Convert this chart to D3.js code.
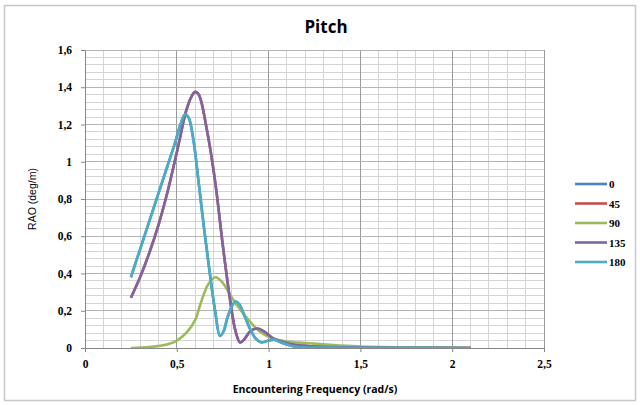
<!DOCTYPE html>
<html>
<head>
<meta charset="utf-8">
<script src="https://cdn.jsdelivr.net/npm/d3@7"></script>
<style>
  body { margin: 0; background: #fff; }
  svg text { fill: #000; }
</style>
</head>
<body>
<div id="chart"></div>
<script>
// ---------------- data ----------------
var seriesNames = ["0", "45", "90", "135", "180"];
var seriesColors = ["#4f81bd", "#c0504d", "#9bbb59", "#8064a2", "#4bacc6"];

// 0 deg (hidden beneath 180 in the picture)
var freq0 = [0.25, 0.3, 0.35, 0.4, 0.45, 0.49, 0.52, 0.545, 0.565, 0.59, 0.62, 0.65, 0.68, 0.71, 0.735, 0.755, 0.775, 0.8, 0.82, 0.84, 0.87, 0.9, 0.93, 0.96, 1.0, 1.03, 1.08, 1.15, 1.3, 1.6, 2.1];
var rao0  = [0.38, 0.53, 0.68, 0.83, 0.98, 1.1, 1.2, 1.255, 1.235, 1.12, 0.88, 0.63, 0.4, 0.19, 0.065, 0.09, 0.16, 0.225, 0.25, 0.235, 0.17, 0.1, 0.05, 0.03, 0.04, 0.045, 0.025, 0.006, 0.002, 0.001, 0];
// 45 deg (hidden beneath 135)
var freq45 = [0.25, 0.3, 0.35, 0.4, 0.45, 0.5, 0.52, 0.55, 0.58, 0.6, 0.62, 0.664, 0.708, 0.752, 0.79, 0.82, 0.845, 0.87, 0.9, 0.94, 0.98, 1.02, 1.07, 1.12, 1.2, 1.3, 1.5, 2.1];
var rao45  = [0.27, 0.38, 0.51, 0.66, 0.84, 1.05, 1.14, 1.27, 1.35, 1.375, 1.36, 1.17, 0.9, 0.54, 0.26, 0.09, 0.03, 0.05, 0.09, 0.105, 0.085, 0.055, 0.035, 0.022, 0.012, 0.006, 0.003, 0];
// 90 deg
var freq90 = [0.25, 0.35, 0.45, 0.5, 0.55, 0.6, 0.63, 0.67, 0.71, 0.75, 0.8, 0.85, 0.9, 0.95, 1.0, 1.1, 1.2, 1.3, 1.4, 1.5, 1.7, 2.0, 2.1];
var rao90  = [0, 0.005, 0.02, 0.04, 0.08, 0.15, 0.24, 0.34, 0.38, 0.35, 0.27, 0.2, 0.14, 0.09, 0.06, 0.035, 0.027, 0.02, 0.013, 0.008, 0.004, 0.001, 0];
// 135 deg
var freq135 = [0.25, 0.3, 0.35, 0.4, 0.45, 0.5, 0.52, 0.55, 0.58, 0.6, 0.62, 0.664, 0.708, 0.752, 0.79, 0.82, 0.845, 0.87, 0.9, 0.94, 0.98, 1.02, 1.07, 1.12, 1.2, 1.3, 1.5, 2.1];
var rao135  = [0.27, 0.38, 0.51, 0.66, 0.84, 1.05, 1.14, 1.27, 1.35, 1.375, 1.36, 1.17, 0.9, 0.54, 0.26, 0.09, 0.03, 0.05, 0.09, 0.105, 0.085, 0.055, 0.035, 0.022, 0.012, 0.006, 0.003, 0];
// 180 deg
var freq180 = [0.25, 0.3, 0.35, 0.4, 0.45, 0.49, 0.52, 0.545, 0.565, 0.59, 0.62, 0.65, 0.68, 0.71, 0.735, 0.755, 0.775, 0.8, 0.82, 0.84, 0.87, 0.9, 0.93, 0.96, 1.0, 1.03, 1.08, 1.15, 1.3, 1.6, 2.1];
var rao180  = [0.38, 0.53, 0.68, 0.83, 0.98, 1.1, 1.2, 1.255, 1.235, 1.12, 0.88, 0.63, 0.4, 0.19, 0.065, 0.09, 0.16, 0.225, 0.25, 0.235, 0.17, 0.1, 0.05, 0.03, 0.04, 0.045, 0.025, 0.006, 0.002, 0.001, 0];

var xTicks = [0, 0.5, 1, 1.5, 2, 2.5];
var yTicks = [0, 0.2, 0.4, 0.6, 0.8, 1, 1.2, 1.4, 1.6];

// ---------------- layout ----------------
var W = 640, H = 405;
var margins = { left: 85, right: 96, top: 50, bottom: 57 };
var width = W - margins.left - margins.right;
var height = H - margins.top - margins.bottom;

var svg = d3.select("#chart").append("svg")
    .attr("width", W).attr("height", H);

// chart area border
svg.append("rect")
    .attr("x", 4.5).attr("y", 5.5)
    .attr("width", 631).attr("height", 395)
    .attr("fill", "#fff").attr("stroke", "#c8c8c8").attr("stroke-width", 1.5);

var g = svg.append("g")
    .attr("transform", "translate(" + margins.left + "," + margins.top + ")");

var x = d3.scaleLinear().domain([0, 2.5]).range([0, width]);
var y = d3.scaleLinear().domain([0, 1.6]).range([height, 0]);

var loc = d3.formatLocale({ decimal: ",", thousands: ".", grouping: [3], currency: ["", ""] });
var fmt = loc.format("~g");

// grid: minor first, then major
var xMinor = d3.range(0, 26).map(function (i) { return i / 10; });
var yMinor = d3.range(0, 41).map(function (i) { return i * 0.04; });

g.append("g").selectAll("line").data(xMinor).join("line")
    .attr("x1", d => x(d)).attr("x2", d => x(d))
    .attr("y1", 0).attr("y2", height)
    .attr("stroke", "#d4d4d4").attr("shape-rendering", "crispEdges");
g.append("g").selectAll("line").data(yMinor).join("line")
    .attr("x1", 0).attr("x2", width)
    .attr("y1", d => y(d)).attr("y2", d => y(d))
    .attr("stroke", "#d4d4d4").attr("shape-rendering", "crispEdges");
g.append("g").selectAll("line").data(xTicks).join("line")
    .attr("x1", d => x(d)).attr("x2", d => x(d))
    .attr("y1", 0).attr("y2", height)
    .attr("stroke", "#9a9a9a").attr("shape-rendering", "crispEdges");
g.append("g").selectAll("line").data(yTicks).join("line")
    .attr("x1", 0).attr("x2", width)
    .attr("y1", d => y(d)).attr("y2", d => y(d))
    .attr("stroke", "#b4b4b4").attr("shape-rendering", "crispEdges");

// axes
var xAxis = d3.axisBottom(x).tickValues(xTicks).tickFormat(fmt).tickSizeInner(4).tickSizeOuter(0).tickPadding(8);
var yAxis = d3.axisLeft(y).tickValues(yTicks).tickFormat(fmt).tickSizeInner(4).tickSizeOuter(0).tickPadding(9);

var gx = g.append("g").attr("transform", "translate(0," + height + ")").call(xAxis);
var gy = g.append("g").call(yAxis);
[gx, gy].forEach(function (a) {
    a.select(".domain").attr("stroke", "#868686");
    a.selectAll(".tick line").attr("stroke", "#868686");
    a.selectAll(".tick text")
        .attr("font-family", "'Liberation Serif', serif")
        .attr("font-weight", "bold")
        .attr("font-size", 11.5)
        .attr("fill", "#222");
});

// lines (clipped to the plot so tiny overshoot stays under the axis)
g.append("clipPath").attr("id", "plotclip")
    .append("rect").attr("x", 0).attr("y", -5).attr("width", width).attr("height", height + 5);

var series = [
    { name: "0", xs: freq0, ys: rao0 },
    { name: "45", xs: freq45, ys: rao45 },
    { name: "90", xs: freq90, ys: rao90 },
    { name: "135", xs: freq135, ys: rao135 },
    { name: "180", xs: freq180, ys: rao180 }
];
var color = d3.scaleOrdinal().domain(seriesNames).range(seriesColors);

var line = d3.line()
    .x(d => x(d[0]))
    .y(d => y(d[1]))
    .curve(d3.curveCatmullRom.alpha(0.5));

g.append("g").attr("clip-path", "url(#plotclip)")
    .selectAll(".series").data(series).join("path")
    .attr("class", "series")
    .attr("d", d => line(d.xs.map((v, i) => [v, d.ys[i]])))
    .attr("fill", "none")
    .attr("stroke", d => color(d.name))
    .attr("stroke-width", 2.6)
    .attr("stroke-linejoin", "round");

// title
svg.append("text")
    .attr("x", 326).attr("y", 33)
    .attr("text-anchor", "middle")
    .attr("font-family", "'Open Sans', sans-serif")
    .attr("font-weight", "bold")
    .attr("font-size", 17)
    .text("Pitch");

// axis titles
svg.append("text")
    .attr("x", 315).attr("y", 393)
    .attr("text-anchor", "middle")
    .attr("font-family", "'Open Sans', sans-serif")
    .attr("font-weight", "bold")
    .attr("font-size", 10.5)
    .attr("fill", "#333")
    .text("Encountering Frequency (rad/s)");

svg.append("text")
    .attr("transform", "translate(36,199) rotate(-90)")
    .attr("text-anchor", "middle")
    .attr("font-family", "'Liberation Sans', sans-serif")
    .attr("font-size", 10.5)
    .attr("fill", "#333")
    .text("RAO (deg/m)");

// legend
var legend = svg.append("g").attr("transform", "translate(575,184)");
var items = legend.selectAll("g").data(seriesNames).join("g")
    .attr("transform", (d, i) => "translate(0," + (i * 19.5) + ")");
items.append("line")
    .attr("x1", 0).attr("x2", 32)
    .attr("stroke", d => color(d)).attr("stroke-width", 2.6);
items.append("text")
    .attr("x", 34).attr("y", 4)
    .attr("font-family", "'Liberation Serif', serif")
    .attr("font-weight", "bold")
    .attr("font-size", 11)
    .attr("fill", "#222")
    .text(d => d);
</script>
</body>
</html>
